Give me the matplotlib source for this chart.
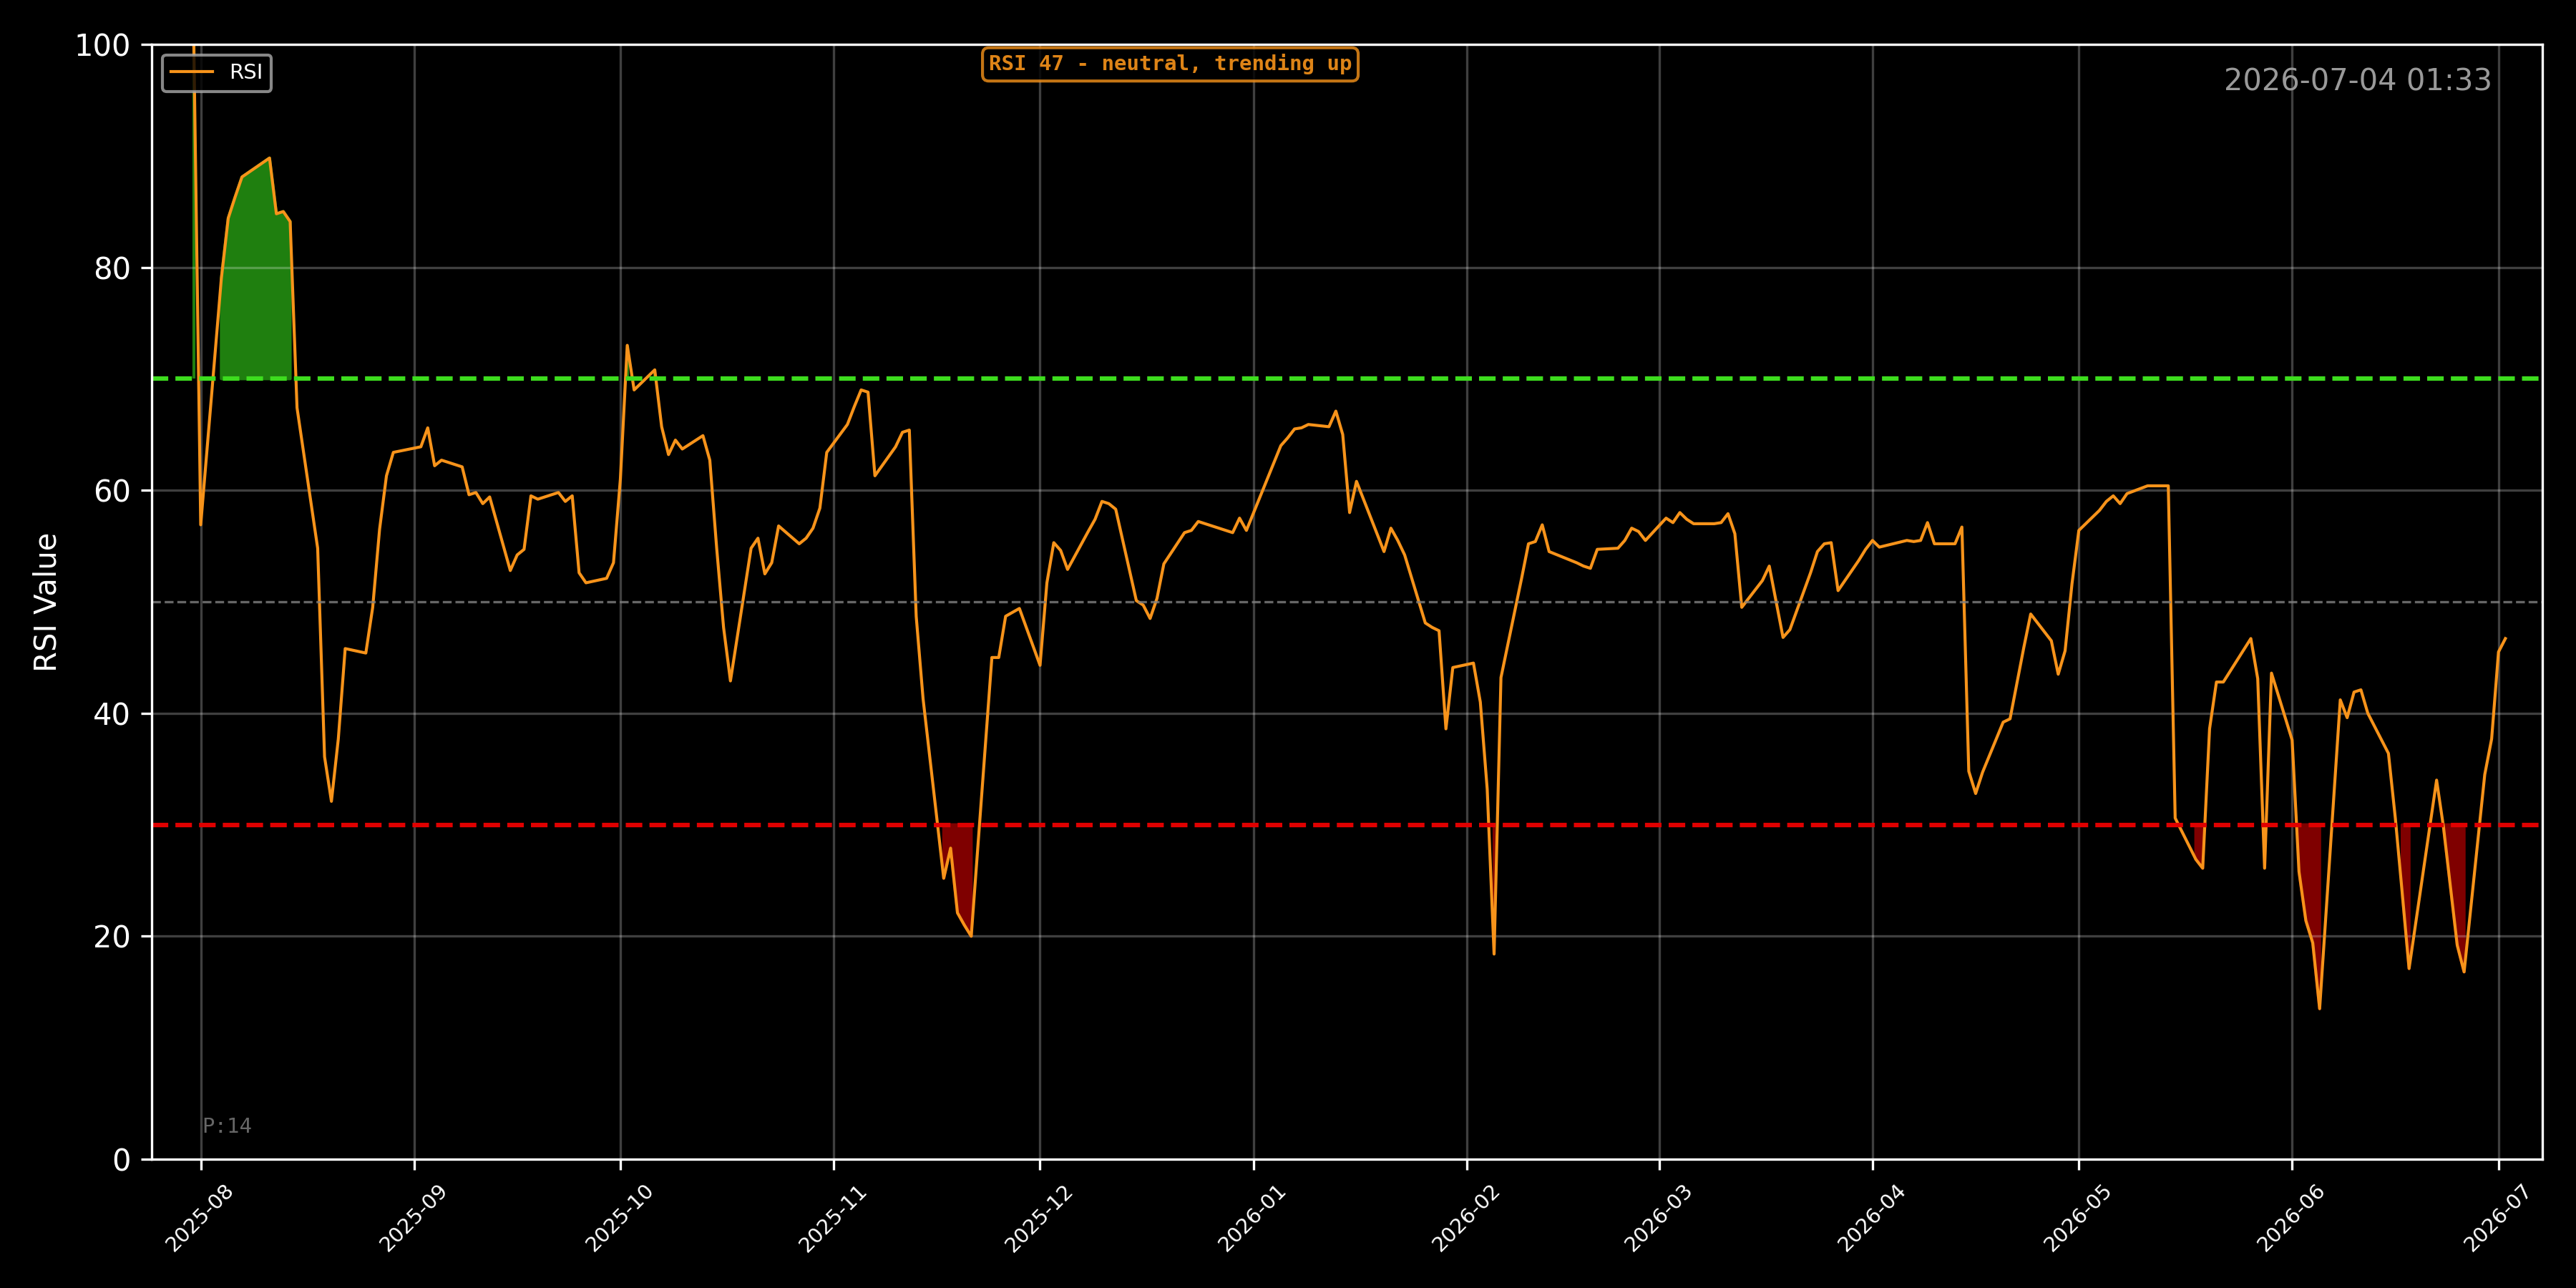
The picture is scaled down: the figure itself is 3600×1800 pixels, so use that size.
import pandas as pd
import numpy as np
import matplotlib
matplotlib.use("Agg")
import matplotlib.pyplot as plt
import matplotlib.dates as mdates

# RSI readings (trading days)
dates = [
    "2025-07-31", "2025-08-01", "2025-08-04", "2025-08-05", "2025-08-06", "2025-08-07",
    "2025-08-11", "2025-08-12", "2025-08-13", "2025-08-14", "2025-08-15", "2025-08-18",
    "2025-08-19", "2025-08-20", "2025-08-21", "2025-08-22", "2025-08-25", "2025-08-26",
    "2025-08-27", "2025-08-28", "2025-08-29", "2025-09-02", "2025-09-03", "2025-09-04",
    "2025-09-05", "2025-09-08", "2025-09-09", "2025-09-10", "2025-09-11", "2025-09-12",
    "2025-09-15", "2025-09-16", "2025-09-17", "2025-09-18", "2025-09-19", "2025-09-22",
    "2025-09-23", "2025-09-24", "2025-09-25", "2025-09-26", "2025-09-29", "2025-09-30",
    "2025-10-01", "2025-10-02", "2025-10-03", "2025-10-06", "2025-10-07", "2025-10-08",
    "2025-10-09", "2025-10-10", "2025-10-13", "2025-10-14", "2025-10-15", "2025-10-16",
    "2025-10-17", "2025-10-20", "2025-10-21", "2025-10-22", "2025-10-23", "2025-10-24",
    "2025-10-27", "2025-10-28", "2025-10-29", "2025-10-30", "2025-10-31", "2025-11-03",
    "2025-11-04", "2025-11-05", "2025-11-06", "2025-11-07", "2025-11-10", "2025-11-11",
    "2025-11-12", "2025-11-13", "2025-11-14", "2025-11-17", "2025-11-18", "2025-11-19",
    "2025-11-20", "2025-11-21", "2025-11-24", "2025-11-25", "2025-11-26", "2025-11-28",
    "2025-12-01", "2025-12-02", "2025-12-03", "2025-12-04", "2025-12-05", "2025-12-08",
    "2025-12-09", "2025-12-10", "2025-12-11", "2025-12-12", "2025-12-15", "2025-12-16",
    "2025-12-17", "2025-12-18", "2025-12-19", "2025-12-22", "2025-12-23", "2025-12-24",
    "2025-12-29", "2025-12-30", "2025-12-31", "2026-01-05", "2026-01-06", "2026-01-07",
    "2026-01-08", "2026-01-09", "2026-01-12", "2026-01-13", "2026-01-14", "2026-01-15",
    "2026-01-16", "2026-01-20", "2026-01-21", "2026-01-22", "2026-01-23", "2026-01-26",
    "2026-01-27", "2026-01-28", "2026-01-29", "2026-01-30", "2026-02-02", "2026-02-03",
    "2026-02-04", "2026-02-05", "2026-02-06", "2026-02-09", "2026-02-10", "2026-02-11",
    "2026-02-12", "2026-02-13", "2026-02-17", "2026-02-18", "2026-02-19", "2026-02-20",
    "2026-02-23", "2026-02-24", "2026-02-25", "2026-02-26", "2026-02-27", "2026-03-02",
    "2026-03-03", "2026-03-04", "2026-03-05", "2026-03-06", "2026-03-09", "2026-03-10",
    "2026-03-11", "2026-03-12", "2026-03-13", "2026-03-16", "2026-03-17", "2026-03-18",
    "2026-03-19", "2026-03-20", "2026-03-23", "2026-03-24", "2026-03-25", "2026-03-26",
    "2026-03-27", "2026-03-30", "2026-03-31", "2026-04-01", "2026-04-02", "2026-04-06",
    "2026-04-07", "2026-04-08", "2026-04-09", "2026-04-10", "2026-04-13", "2026-04-14",
    "2026-04-15", "2026-04-16", "2026-04-17", "2026-04-20", "2026-04-21", "2026-04-22",
    "2026-04-23", "2026-04-24", "2026-04-27", "2026-04-28", "2026-04-29", "2026-04-30",
    "2026-05-01", "2026-05-04", "2026-05-05", "2026-05-06", "2026-05-07", "2026-05-08",
    "2026-05-11", "2026-05-12", "2026-05-13", "2026-05-14", "2026-05-15", "2026-05-18",
    "2026-05-19", "2026-05-20", "2026-05-21", "2026-05-22", "2026-05-26", "2026-05-27",
    "2026-05-28", "2026-05-29", "2026-06-01", "2026-06-02", "2026-06-03", "2026-06-04",
    "2026-06-05", "2026-06-08", "2026-06-09", "2026-06-10", "2026-06-11", "2026-06-12",
    "2026-06-15", "2026-06-16", "2026-06-17", "2026-06-18", "2026-06-22", "2026-06-23",
    "2026-06-24", "2026-06-25", "2026-06-26", "2026-06-29", "2026-06-30", "2026-07-01",
    "2026-07-02",
]

rsi = [
    100.0, 56.9, 79.0, 84.4, 86.3, 88.1,
    89.8, 84.8, 85.0, 84.1, 67.4, 54.8,
    36.1, 32.1, 37.7, 45.8, 45.4, 49.5,
    56.5, 61.3, 63.4, 63.9, 65.6, 62.2,
    62.7, 62.1, 59.6, 59.8, 58.8, 59.4,
    52.8, 54.2, 54.7, 59.5, 59.2, 59.8,
    59.0, 59.5, 52.6, 51.7, 52.1, 53.5,
    61.0, 73.0, 69.0, 70.8, 65.7, 63.2,
    64.5, 63.7, 64.9, 62.7, 54.8, 47.7,
    42.9, 54.8, 55.7, 52.5, 53.5, 56.8,
    55.2, 55.7, 56.6, 58.4, 63.4, 65.9,
    67.5, 69.0, 68.8, 61.3, 63.9, 65.2,
    65.4, 48.7, 41.3, 25.2, 27.9, 22.1,
    21.0, 20.0, 45.0, 45.0, 48.7, 49.4,
    44.3, 51.7, 55.3, 54.6, 52.9, 56.3,
    57.4, 59.0, 58.8, 58.3, 50.1, 49.7,
    48.5, 50.3, 53.4, 56.2, 56.4, 57.2,
    56.2, 57.5, 56.4, 64.0, 64.7, 65.5,
    65.6, 65.9, 65.7, 67.1, 65.0, 58.0,
    60.8, 54.5, 56.6, 55.5, 54.2, 48.1,
    47.7, 47.4, 38.6, 44.1, 44.5, 41.0,
    33.2, 18.4, 43.2, 52.1, 55.2, 55.4,
    56.9, 54.5, 53.5, 53.2, 53.0, 54.7,
    54.8, 55.5, 56.6, 56.3, 55.5, 57.5,
    57.1, 58.0, 57.4, 57.0, 57.0, 57.1,
    57.9, 56.1, 49.5, 51.9, 53.2, 50.0,
    46.8, 47.5, 52.6, 54.5, 55.2, 55.3,
    51.0, 53.7, 54.7, 55.5, 54.9, 55.5,
    55.4, 55.5, 57.1, 55.2, 55.2, 56.7,
    34.8, 32.8, 34.7, 39.2, 39.5, 42.7,
    45.9, 48.9, 46.5, 43.5, 45.6, 51.6,
    56.4, 58.2, 59.0, 59.5, 58.8, 59.7,
    60.4, 60.4, 60.4, 60.4, 30.6, 26.9,
    26.1, 38.6, 42.8, 42.8, 46.7, 43.1,
    26.1, 43.6, 37.6, 25.8, 21.4, 19.4,
    13.5, 41.2, 39.6, 41.9, 42.1, 40.0,
    36.4, 30.6, 23.9, 17.1, 34.0, 29.8,
    24.5, 19.2, 16.8, 34.5, 37.7, 45.5,
    46.7,
]

period = 14
overbought = 70
oversold = 30
timestamp = "2026-07-04 01:33"
status = "RSI 47 - neutral, trending up"

x = pd.to_datetime(dates)
y = np.array(rsi)

plt.style.use("dark_background")
fig = plt.figure(figsize=(12, 6), dpi=300)
fig.patch.set_facecolor("black")
ax = fig.add_axes([0.059, 0.1, 0.928, 0.8656])
ax.set_facecolor("black")

ax.plot(x, y, color="#f7931a", linewidth=1.0, label="RSI")
ax.axhline(overbought, color="#3ddc1e", linestyle="--", linewidth=1.5)
ax.axhline(oversold, color="#e00000", linestyle="--", linewidth=1.5)
ax.axhline(50, color="gray", linestyle="--", linewidth=0.8, alpha=0.8)

ax.fill_between(x, y, overbought, where=y >= overbought, color="#1f7f0f")
ax.fill_between(x, y, oversold, where=y <= oversold, color="#7f0000")

ax.set_ylim(0, 100)
ax.set_xlim(pd.Timestamp("2025-07-24 22:00"), pd.Timestamp("2026-07-07 09:30"))
ax.set_ylabel("RSI Value", fontsize=10)
ax.tick_params(axis="y", labelsize=10)
ax.xaxis.set_major_locator(mdates.MonthLocator())
ax.xaxis.set_major_formatter(mdates.DateFormatter("%Y-%m"))
plt.setp(ax.get_xticklabels(), rotation=45, ha="center", fontsize=7)
ax.grid(True, color="white", alpha=0.25, linewidth=0.8)

leg = ax.legend(loc="upper left", fontsize=7, facecolor="black", edgecolor="#aaaaaa")

ax.text(0.426, 0.982, status, transform=ax.transAxes, ha="center", va="center",
        fontsize=7, family="monospace", fontweight="bold", color="#f7931a", alpha=0.9,
        bbox=dict(boxstyle="round,pad=0.3", facecolor="black", edgecolor="#f7931a", alpha=0.8))
ax.text(0.979, 0.98, timestamp, transform=ax.transAxes, ha="right", va="top",
        fontsize=10, color="#999999")
ax.text(0.021, 0.02, f"P:{period}", transform=ax.transAxes, ha="left", va="bottom",
        fontsize=7, family="monospace", color="gray", alpha=0.8)

fig.savefig("out.png", dpi=300, facecolor="black")
